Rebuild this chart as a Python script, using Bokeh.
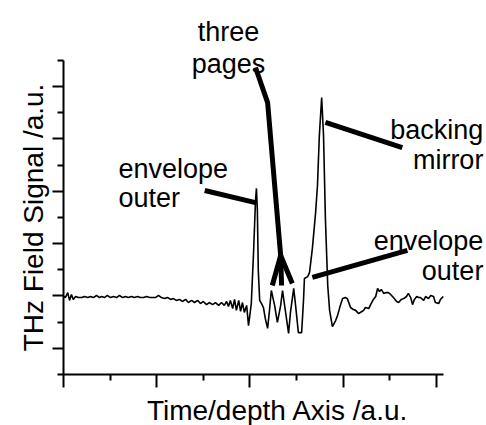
import math
from bokeh.plotting import figure
from bokeh.models import FixedTicker, Label, LinearAxis
from bokeh.embed import file_html
from bokeh.resources import INLINE

# ---- data: THz trace (time/depth axis, field signal, arbitrary units) ----
t = [0.00, 0.04, 0.09, 0.13, 0.17, 0.21, 0.26, 0.32, 0.39, 0.45,
     0.52, 0.58, 0.64, 0.71, 0.77, 0.82, 0.88, 0.94, 1.01, 1.07,
     1.14, 1.20, 1.27, 1.33, 1.39, 1.46, 1.52, 1.59, 1.65, 1.72,
     1.78, 1.85, 1.91, 1.97, 2.04, 2.10, 2.17, 2.23, 2.30, 2.36,
     2.42, 2.49, 2.55, 2.62, 2.68, 2.75, 2.81, 2.88, 2.94, 3.00,
     3.07, 3.13, 3.20, 3.26, 3.33, 3.39, 3.45, 3.50, 3.54, 3.58,
     3.63, 3.67, 3.71, 3.76, 3.80, 3.84, 3.88, 3.93, 3.97, 4.03,
     4.08, 4.12, 4.14, 4.16, 4.18, 4.21, 4.25, 4.29, 4.33, 4.38,
     4.42, 4.46, 4.53, 4.59, 4.66, 4.70, 4.76, 4.83, 4.87, 4.94,
     4.98, 5.04, 5.11, 5.15, 5.17, 5.24, 5.28, 5.34, 5.41, 5.45,
     5.49, 5.54, 5.58, 5.62, 5.67, 5.71, 5.77, 5.84, 5.88, 5.94,
     5.99, 6.05, 6.09, 6.16, 6.22, 6.27, 6.33, 6.37, 6.44, 6.48,
     6.55, 6.59, 6.65, 6.70, 6.74, 6.78, 6.82, 6.87, 6.93, 6.97,
     7.02, 7.08, 7.15, 7.19, 7.25, 7.30, 7.36, 7.40, 7.45, 7.49,
     7.53, 7.58, 7.62, 7.66, 7.73, 7.77, 7.83, 7.88, 7.94, 7.98,
     8.05, 8.09, 8.15]

signal = [2.98, 2.94, 3.13, 2.83, 3.06, 2.87, 2.98, 2.94, 2.94, 2.98,
          2.94, 2.98, 2.94, 3.02, 2.94, 2.98, 2.94, 3.02, 2.94, 2.98,
          2.94, 3.02, 2.94, 2.98, 2.94, 2.98, 2.94, 2.98, 2.94, 2.94,
          2.98, 2.94, 2.94, 2.94, 3.02, 2.94, 2.90, 2.94, 2.87, 2.90,
          2.83, 2.87, 2.79, 2.87, 2.75, 2.83, 2.75, 2.83, 2.71, 2.79,
          2.67, 2.75, 2.67, 2.75, 2.64, 2.75, 2.64, 2.79, 2.60, 2.83,
          2.52, 2.87, 2.45, 2.83, 2.41, 2.75, 2.37, 2.64, 1.87, 2.71,
          4.74, 6.65, 7.11, 6.27, 3.97, 2.83, 2.71, 2.56, 2.14, 1.76,
          2.45, 3.21, 2.64, 1.99, 2.64, 3.21, 2.45, 1.57, 2.37, 3.29,
          2.64, 1.60, 1.60, 2.83, 3.67, 3.74, 3.90, 4.81, 6.19, 7.22,
          9.13, 10.58, 9.13, 5.96, 3.40, 2.45, 1.83, 2.06, 2.25, 2.64,
          2.90, 2.94, 2.90, 2.56, 2.48, 2.45, 2.33, 2.37, 2.45, 2.56,
          2.52, 2.67, 2.87, 2.98, 3.29, 3.17, 3.25, 3.10, 3.13, 3.13,
          3.06, 2.94, 2.79, 2.75, 2.87, 2.90, 2.98, 3.10, 2.94, 2.67,
          2.87, 2.98, 2.94, 2.94, 2.83, 2.98, 2.90, 3.02, 2.98, 2.75,
          2.71, 2.87, 2.98]

x_major = [0, 2, 4, 6, 8]
x_minor = [1, 3, 5, 7]
y_major = [1, 3, 5, 7, 9, 11]
y_minor = [0, 2, 4, 6, 8, 10, 12]
x_axis_extent = (0, 8.15)
y_axis_extent = (0, 12)

x_title = "Time/depth Axis /a.u."
y_title = "THz Field Signal /a.u."

# ---- annotation leaders (data coordinates) ----
pages_trunk_x = [4.12, 4.38, 4.66]
pages_trunk_y = [11.73, 10.39, 4.55]
pages_tips_x = [4.48, 4.68, 4.91]
pages_tips_y = [3.40, 3.40, 3.48]
env1_x = [3.03, 4.12]
env1_y = [7.03, 6.57]
mirror_x = [5.62, 7.27]
mirror_y = [9.63, 8.67]
env2_x = [5.34, 7.38]
env2_y = [3.71, 4.74]

FONT = "Liberation Sans"

# the frame fills the canvas; the axes sit at fixed data positions
p = figure(width=486, height=425, x_range=(-1.352, 9.077), y_range=(-1.949, 14.291),
           output_backend="svg", toolbar_location=None,
           x_axis_location=None, y_axis_location=None,
           min_border=0, min_border_left=0, min_border_right=0,
           min_border_top=0, min_border_bottom=0)
p.outline_line_color = None
p.grid.visible = False
p.background_fill_color = "white"
p.border_fill_color = "white"

xax = LinearAxis(fixed_location=0, bounds=x_axis_extent)
yax = LinearAxis(fixed_location=0, bounds=y_axis_extent)
p.add_layout(xax, "below")
p.add_layout(yax, "left")

for ax, maj, mnr, out in ((xax, x_major, x_minor, 13),
                          (yax, y_major, y_minor, 11)):
    ax.ticker = FixedTicker(ticks=maj, minor_ticks=mnr)
    ax.major_label_overrides = {v: "" for v in maj}
    ax.axis_line_width = 2
    ax.axis_line_color = "black"
    ax.major_tick_line_width = 2
    ax.minor_tick_line_width = 2
    ax.major_tick_line_color = "black"
    ax.minor_tick_line_color = "black"
    ax.major_tick_in = 0
    ax.major_tick_out = out
    ax.minor_tick_in = 0
    ax.minor_tick_out = 6

p.line(t, signal, line_color="black", line_width=1.6)

lw = 5
p.line(pages_trunk_x, pages_trunk_y, line_color="black", line_width=lw)
for tx, ty in zip(pages_tips_x, pages_tips_y):
    p.line([pages_trunk_x[-1], tx], [pages_trunk_y[-1], ty],
           line_color="black", line_width=lw)
p.line(env1_x, env1_y, line_color="black", line_width=lw)
p.line(mirror_x, mirror_y, line_color="black", line_width=lw)
p.line(env2_x, env2_y, line_color="black", line_width=lw)

def lab(txt, x, y, align="left", size="27px", angle=0.0):
    p.add_layout(Label(x=x, y=y, text=txt, text_align=align,
                       text_baseline="alphabetic", text_font=FONT,
                       text_font_size=size, text_color="black", angle=angle))

lab("three", 3.54, 13.07, "center")
lab("pages", 3.54, 11.88, "center")
lab("envelope", 1.18, 7.87, "left")
lab("outer", 1.18, 6.73, "left")
lab("backing", 9.01, 9.36, "right")
lab("mirror", 9.01, 8.18, "right")
lab("envelope", 9.01, 5.12, "right")
lab("outer", 9.01, 3.97, "right")
lab(x_title, 4.60, -1.376, "center", "28px")
lab(y_title, -0.64, 6.0, "center", "28px", math.pi / 2)

open("out.html", "w").write(file_html(p, INLINE))
